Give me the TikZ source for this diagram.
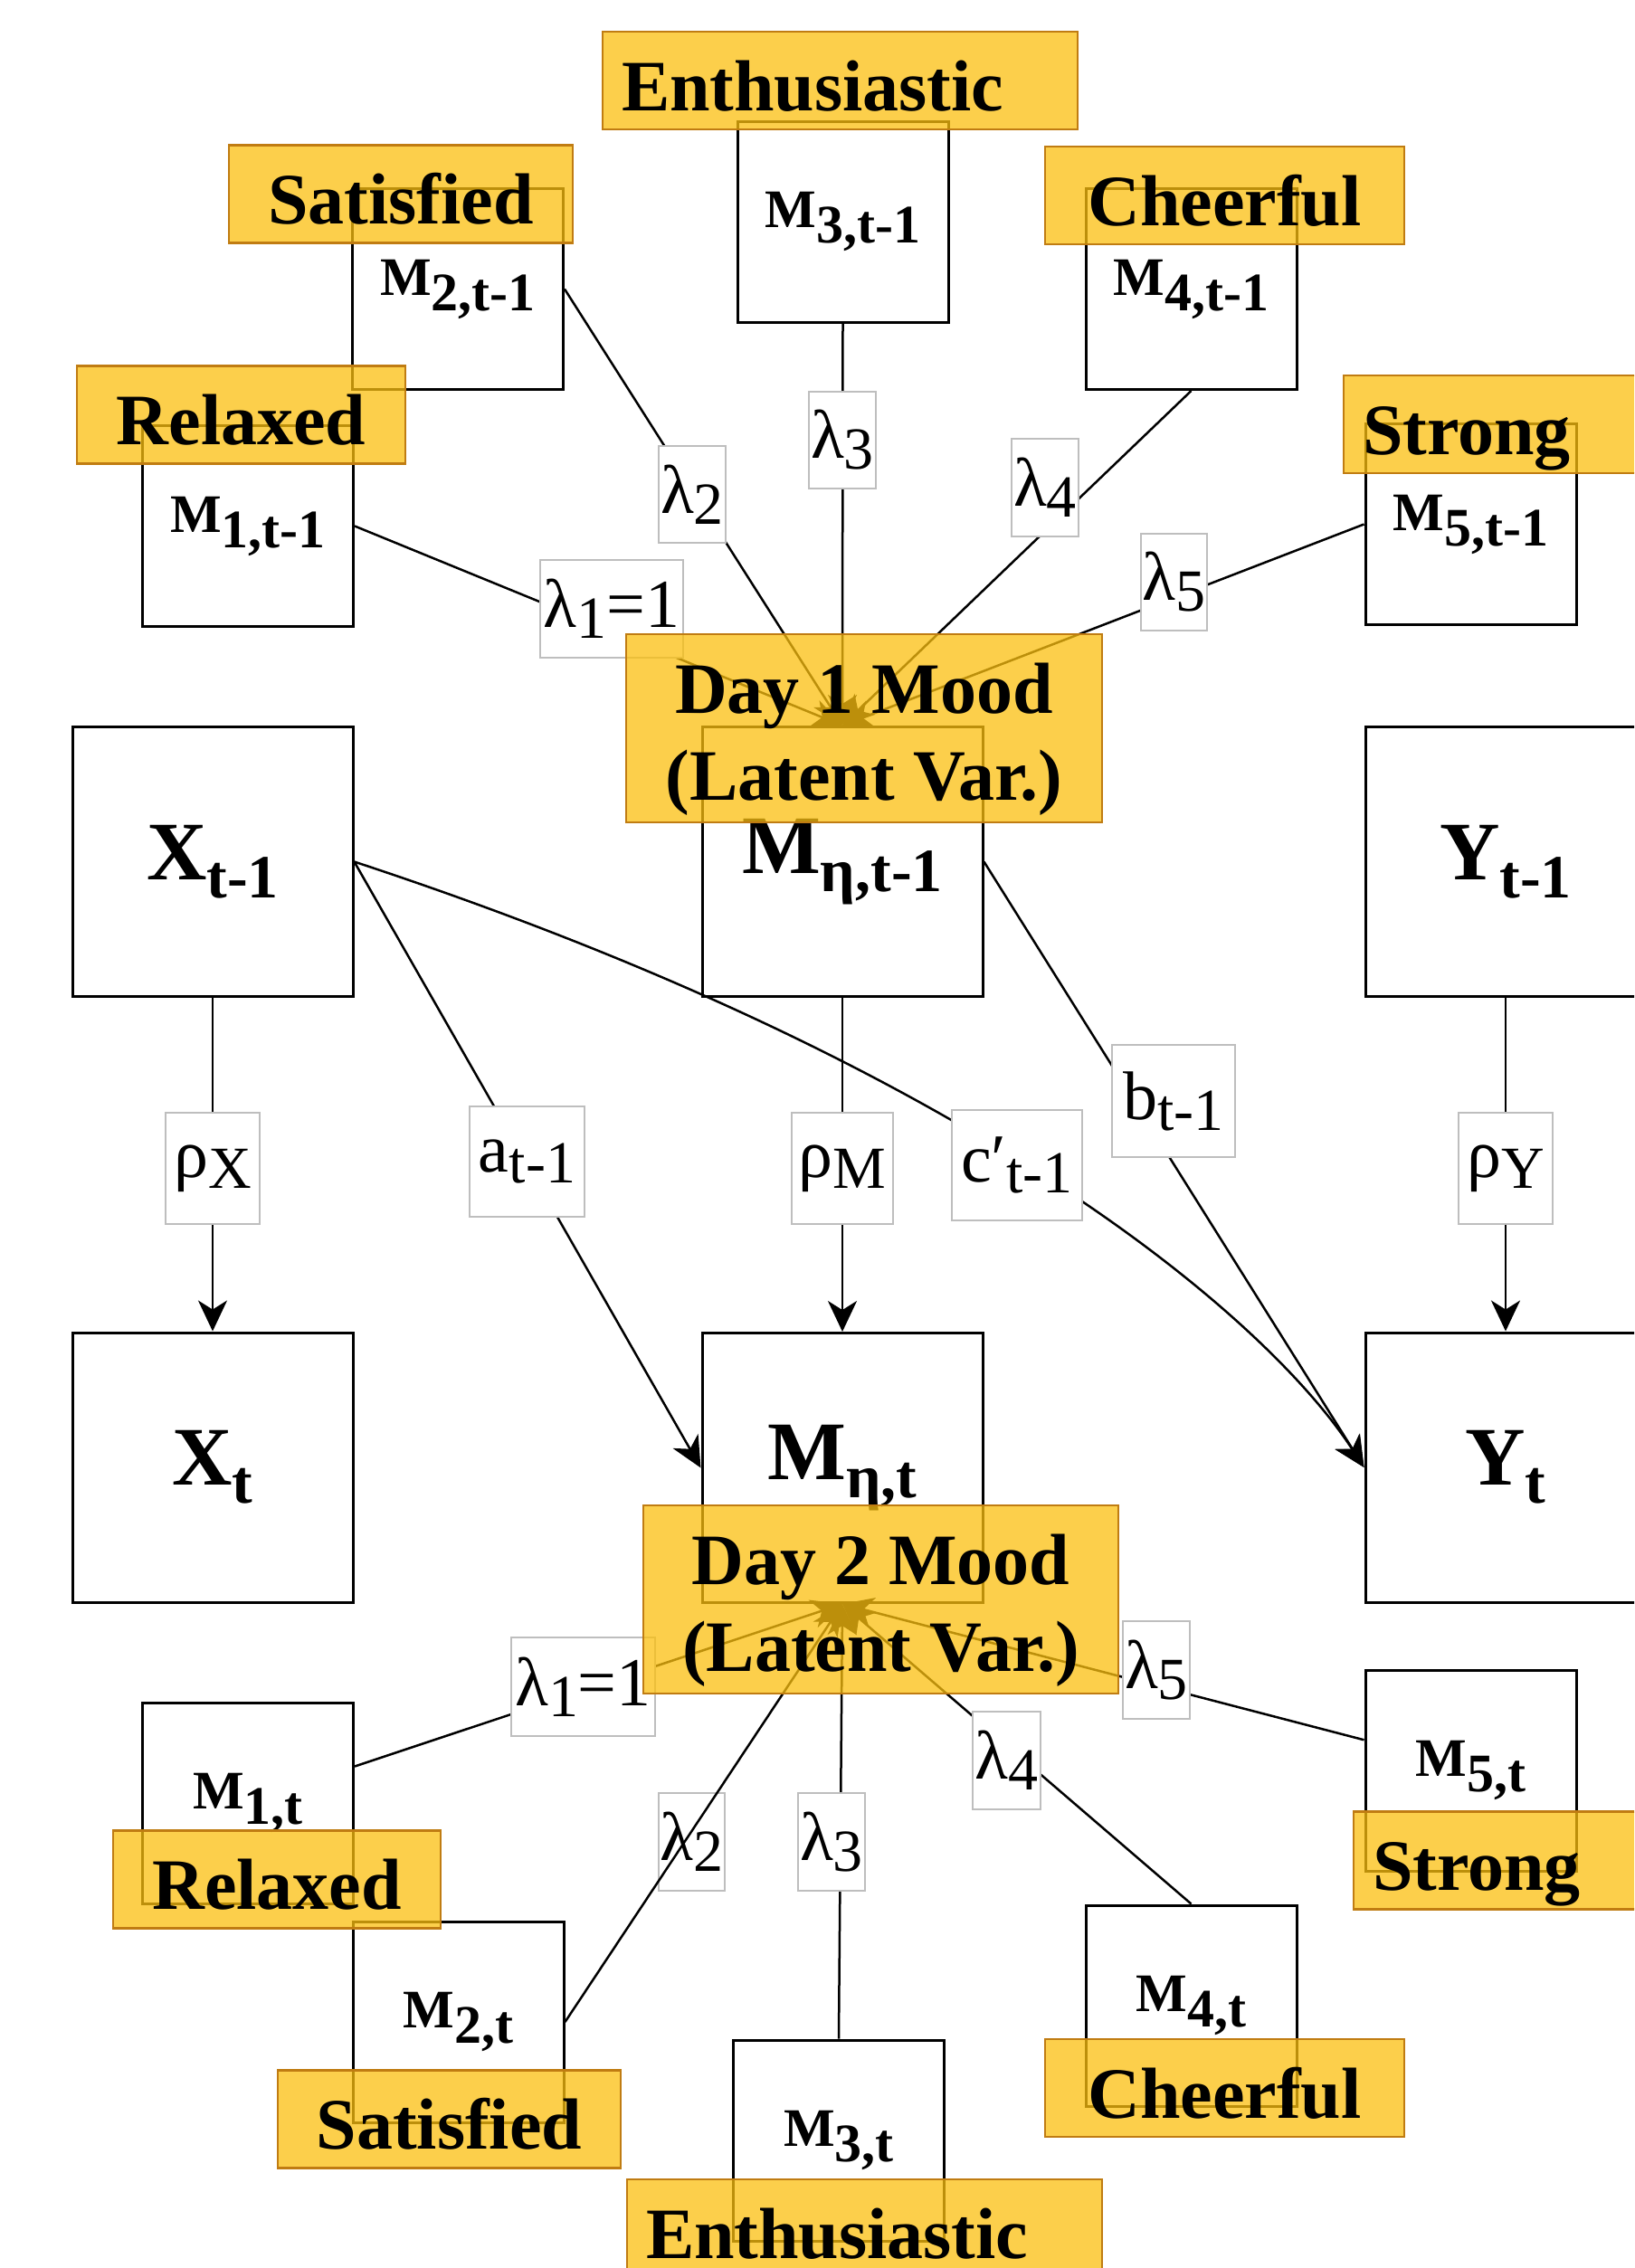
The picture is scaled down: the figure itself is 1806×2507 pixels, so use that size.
\documentclass[tikz,border=0pt]{standalone}
\usepackage{fontspec}
\setmainfont{Liberation Serif}
\usetikzlibrary{arrows.meta,calc}
\definecolor{yfill}{RGB}{251,192,15}
\definecolor{ybord}{RGB}{192,124,18}
\definecolor{lblgray}{RGB}{190,190,190}
\newcommand{\smv}[2]{{\fontsize{30pt}{30pt}\selectfont\bfseries #1\raisebox{-8.5pt}{#2}}}
\newcommand{\bgv}[2]{{\fontsize{46pt}{46pt}\selectfont\bfseries #1\raisebox{-10pt}{\fontsize{34pt}{34pt}\selectfont #2}}}
\newcommand{\coefl}[3][]{{\fontsize{38pt}{38pt}\selectfont #2\raisebox{-6pt}{\fontsize{33pt}{33pt}\selectfont #3}#1}}
\begin{document}
\begin{tikzpicture}[x=0.5pt,y=-0.5pt,
  smallbox/.style={draw, line width=1.5pt, fill=white, minimum width=116.5pt, minimum height=111pt, inner sep=0pt},
  bigbox/.style={draw, line width=1.5pt, fill=white, minimum width=155pt, minimum height=149pt, inner sep=0pt},
  coefbox/.style={draw=lblgray, line width=1pt, fill=white, inner sep=0pt},
  arr/.style={line width=1.25pt, -{Stealth[length=17pt,width=16pt,inset=5pt]}},
  ylw/.style={draw=ybord, line width=1.2pt, fill=yfill, fill opacity=0.75, text opacity=1, inner sep=0pt,
    text height=43.5pt, text depth=10.5pt, font=\fontsize{40pt}{48pt}\selectfont\bfseries},
  ylwleft/.style={ylw, align=left, inner xsep=10.5pt}
]
\useasboundingbox (0,0) rectangle (1806,2507);
\clip (0,0) rectangle (1806,2507);
\fill[white] (0,0) rectangle (1806,2507);

% observed variables, day 1
\node[smallbox] (m1a) at (274,581.5) {\smv{M}{1,t-1}};
\node[smallbox] (m2a) at (506,319.5) {\smv{M}{2,t-1}};
\node[smallbox] (m3a) at (931.5,245) {\smv{M}{3,t-1}};
\node[smallbox] (m4a) at (1316.5,319.5) {\smv{M}{4,t-1}};
\node[smallbox] (m5a) at (1625.5,579.5) {\smv{M}{5,t-1}};
% main variables
\node[bigbox] (x1) at (235,952.5) {\bgv{X}{t-1}};
\node[bigbox] (eta1) at (931,952.5) {\bgv{M}{η,t-1}};
\node[bigbox] (y1) at (1664,952.5) {\bgv{Y}{t-1}};
\node[bigbox] (x2) at (235,1622) {\bgv{X}{t}};
\node[bigbox] (eta2) at (931,1622.5) {\bgv{M}{η,t}};
\node[bigbox] (y2) at (1664,1622) {\bgv{Y}{t}};
% observed variables, day 2
\node[smallbox] (m1b) at (274,1993) {\smv{M}{1,t}};
\node[smallbox] (m2b) at (506.5,2235) {\smv{M}{2,t}};
\node[smallbox] (m3b) at (927,2366) {\smv{M}{3,t}};
\node[smallbox] (m4b) at (1316.5,2217) {\smv{M}{4,t}};
\node[smallbox] (m5b) at (1625.5,1957) {\smv{M}{5,t}};

% connectors, day 1 measurement
\draw[arr] (m1a.east) -- (eta1.north);
\draw[arr] (m2a.east) -- (eta1.north);
\draw[arr] (m3a.south) -- (eta1.north);
\draw[arr] (m4a.south) -- (eta1.north);
\draw[arr] (m5a.west) -- (eta1.north);
% structural paths
\draw[arr] (x1.south) -- (x2.north);
\draw[arr] (eta1.south) -- (eta2.north);
\draw[arr] (y1.south) -- (y2.north);
\draw[arr] (x1.east) -- (eta2.west);
\draw[arr] (eta1.east) -- (y2.west);
\draw[arr] (x1.east) .. controls (1102,1186.5) and (1409,1470) .. (y2.west);
% day 2 measurement
\draw[arr] ($(m1b.north east)!0.32!(m1b.south east)$) -- (eta2.south);
\draw[arr] (m3b.north) -- (eta2.south);
\draw[arr] (m4b.north) -- (eta2.south);
\draw[arr] ($(m5b.north west)!0.35!(m5b.south west)$) -- (eta2.south);

% coefficient labels
\node[coefbox, minimum width=79pt, minimum height=54pt] (l1a) at (676,673) {\coefl[=1]{λ}{1}};
\node[coefbox, minimum width=37pt, minimum height=53.5pt] (l2a) at (765,546.5) {\coefl{λ}{2}};
\node[coefbox, minimum width=37pt, minimum height=53.5pt] (l3a) at (931,486.5) {\coefl{λ}{3}};
\node[coefbox, minimum width=37pt, minimum height=54pt] (l4a) at (1155,539) {\coefl{λ}{4}};
\node[coefbox, minimum width=36.5pt, minimum height=53.5pt] (l5a) at (1297.5,643.5) {\coefl{λ}{5}};
\node[coefbox, minimum width=52pt, minimum height=61.5pt] (rx) at (235,1291.5) {\coefl{ρ}{X}};
\node[coefbox, minimum width=63.5pt, minimum height=61pt] (al) at (582.5,1284) {\coefl{a}{t-1}};
\node[coefbox, minimum width=56pt, minimum height=61.5pt] (rm) at (931,1291.5) {\coefl{ρ}{M}};
\node[coefbox, minimum width=72pt, minimum height=61pt] (cl) at (1124,1288) {\coefl{c′}{t-1}};
\node[coefbox, minimum width=68pt, minimum height=62pt] (bl) at (1297,1217) {\coefl{b}{t-1}};
\node[coefbox, minimum width=52pt, minimum height=61.5pt] (ry) at (1664,1291.5) {\coefl{ρ}{Y}};
\node[coefbox, minimum width=79.5pt, minimum height=54.5pt] (l1b) at (644.5,1864.5) {\coefl[=1]{λ}{1}};
\node[coefbox, minimum width=36.5pt, minimum height=54pt] (l2b) at (764.5,2036) {\coefl{λ}{2}};
\node[coefbox, minimum width=37pt, minimum height=54pt] (l3b) at (919,2036) {\coefl{λ}{3}};
\node[coefbox, minimum width=37.5pt, minimum height=54pt] (l4b) at (1112.5,1946) {\coefl{λ}{4}};
\node[coefbox, minimum width=37pt, minimum height=54pt] (l5b) at (1278,1846) {\coefl{λ}{5}};

% this path crosses its label
\draw[arr] (m2b.east) -- (eta2.south);

% yellow annotations, day 1
\node[ylwleft, text width=241.5pt] (yenthA) at (928.5,89) {Enthusiastic};
\node[ylw, minimum width=190pt] (ysatA) at (443,214.5) {Satisfied};
\node[ylw, minimum width=181.5pt] (yrelA) at (266.5,458.5) {Relaxed};
\node[ylw, minimum width=198.5pt] (ycheerA) at (1353.5,216) {Cheerful};
\node[ylwleft, text width=151.5pt] (ystrA) at (1657.5,469) {Strong};
\node[ylw, text depth=60.5pt] (yday1) at (955,805) {\parbox[t]{263pt}{\centering Day 1 Mood\\(Latent Var.)}};
% yellow annotations, day 2
\node[ylw, text depth=60.5pt] (yday2) at (973.5,1768) {\parbox[t]{262.5pt}{\centering Day 2 Mood\\(Latent Var.)}};
\node[ylw, minimum width=181pt] (yrelB) at (306,2077.5) {Relaxed};
\node[ylw, minimum width=189.5pt] (ysatB) at (496.5,2342.5) {Satisfied};
\node[ylwleft, text width=241.5pt] (yenthB) at (955.5,2463) {Enthusiastic};
\node[ylw, minimum width=198.5pt] (ycheerB) at (1353.5,2308) {Cheerful};
\node[ylwleft, text width=146pt] (ystrB) at (1663,2056.5) {Strong};
\end{tikzpicture}
\end{document}
